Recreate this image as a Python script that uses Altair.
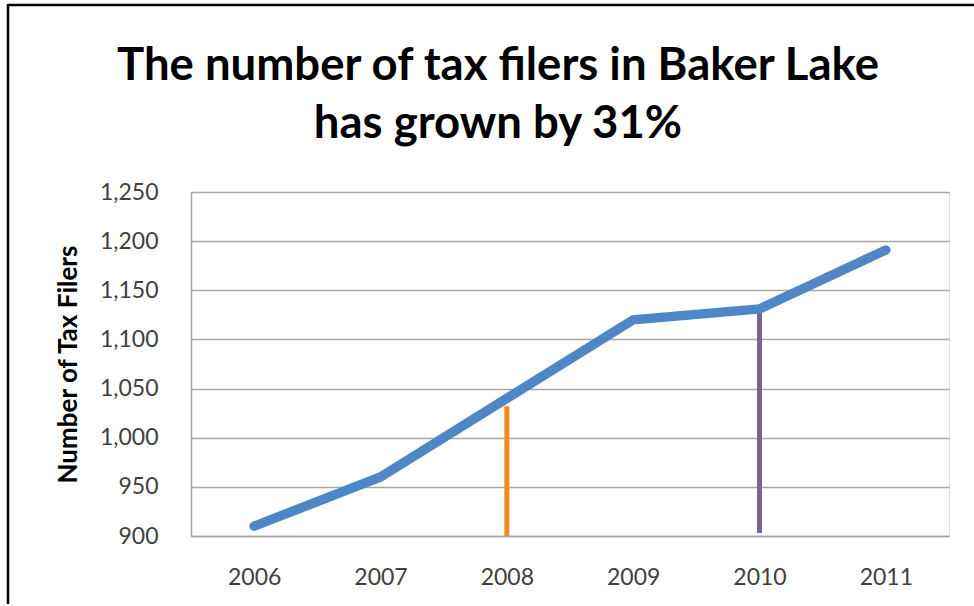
import altair as alt
import pandas as pd

years = ["2006", "2007", "2008", "2009", "2010", "2011"]
filers = [910, 960, 1040, 1120, 1131, 1191]

marker_years = ["2008", "2010"]
marker_low = [900, 903]
marker_high = [1032, 1128]
marker_colors = ["#F28A1E", "#7A6396"]

y_ticks = [900, 950, 1000, 1050, 1100, 1150, 1200, 1250]
title_lines = ["The number of tax filers in Baker Lake", "has grown by 31%"]

df = pd.DataFrame({"Year": years, "Filers": filers})
mk = pd.DataFrame({"Year": marker_years, "low": marker_low, "high": marker_high, "color": marker_colors})

FONT = "Lato"
GRID = "#A6A6A6"

x_enc = alt.X(
    "Year:N",
    scale=alt.Scale(type="point", padding=0.5, domain=years),
    axis=alt.Axis(title=None, labelAngle=0, labelAlign="center", labelBaseline="top",
                  ticks=False, domain=True,
                  domainColor=GRID, domainWidth=1.5, labelPadding=30,
                  labelFontSize=23, labelFont=FONT, labelColor="#404040", grid=False),
)
y_scale = alt.Scale(domain=[900, 1250], nice=False, zero=False)
y_axis = alt.Axis(values=y_ticks, format=",.0f", title="Number of Tax Filers",
                  titleFont=FONT, titleFontSize=26, titleFontWeight="bold", titleColor="black",
                  titleX=-123, titleY=172, titleAlign="center", titleBaseline="middle", titleAngle=-90,
                  labelFont=FONT, labelFontSize=23, labelColor="#404040",
                  labelPadding=33, ticks=False, domain=True, domainColor=GRID, domainWidth=1.5,
                  grid=True, gridColor=GRID, gridWidth=1.5)

line = alt.Chart(df).mark_line(color="#4F86C6", strokeWidth=9.5, strokeCap="round", strokeJoin="miter").encode(
    x=x_enc,
    y=alt.Y("Filers:Q", scale=y_scale, axis=y_axis),
)

rules = alt.Chart(mk).mark_rule(strokeWidth=5).encode(
    x=alt.X("Year:N", scale=alt.Scale(type="point", padding=0.5, domain=years)),
    y=alt.Y("low:Q", scale=y_scale),
    y2="high:Q",
    color=alt.Color("color:N", scale=None),
)

border_data = alt.Data(values=[{"k": 1}])
border_top = alt.Chart(border_data).mark_rule(color="black", strokeWidth=2.5).encode(
    x=alt.value(-183), x2=alt.value(790), y=alt.value(-187)
)
border_left = alt.Chart(border_data).mark_rule(color="black", strokeWidth=2.5).encode(
    x=alt.value(-183), y=alt.value(-188), y2=alt.value(412)
)

chart = alt.layer(rules, line, border_top, border_left).properties(
    width=758,
    height=344,
    padding={"left": 191, "top": 192, "right": 25, "bottom": 70},
    autosize=alt.AutoSizeParams(type="none"),
    title=alt.TitleParams(title_lines, font=FONT, fontSize=45.5, fontWeight="bold", color="black",
                          lineHeight=58, anchor="middle", dx=-72, offset=0, dy=145),
).configure_view(stroke=None).configure(background="white")

chart.save("out.html", embed_options={"renderer": "svg", "actions": False})
